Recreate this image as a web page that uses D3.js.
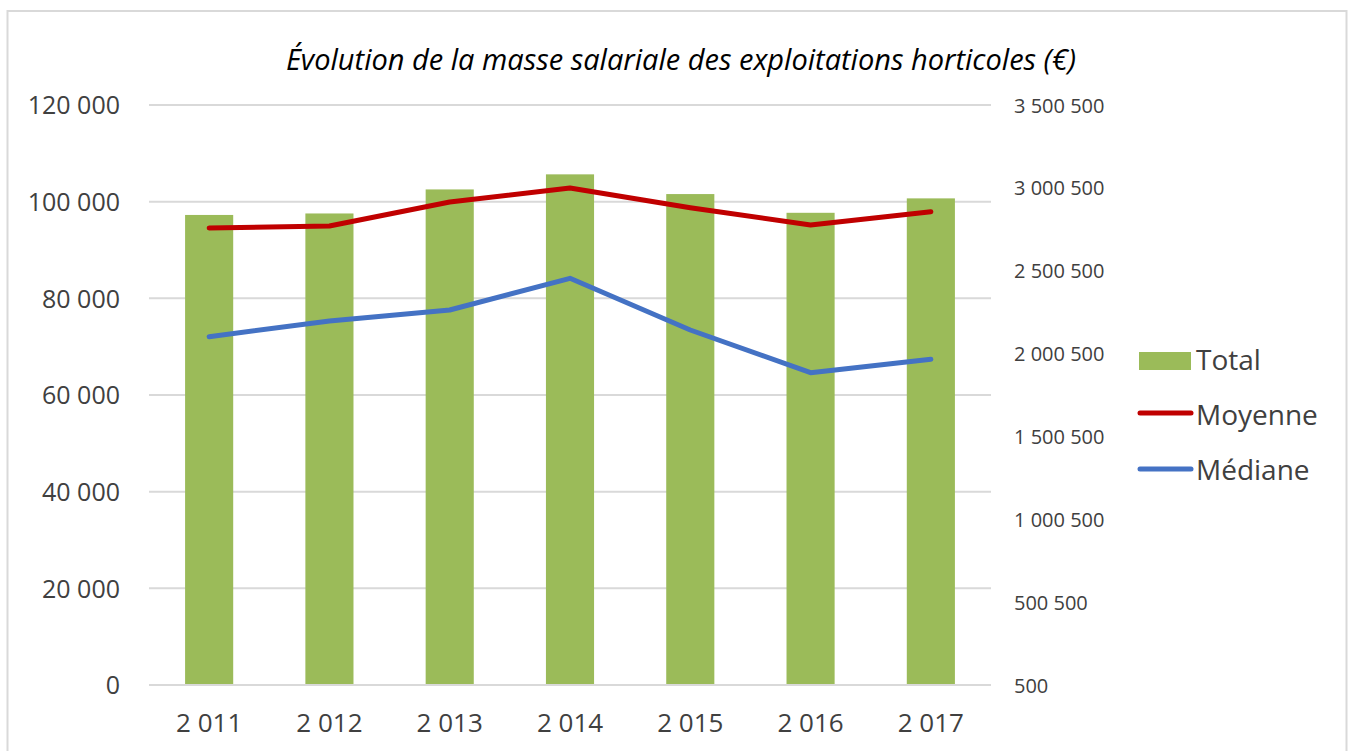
<!DOCTYPE html>
<html>
<head>
<meta charset="utf-8">
<script src="https://cdn.jsdelivr.net/npm/d3@7"></script>
<style>
  body { margin: 0; background: #fff; }
  svg text { font-family: "Open Sans", "Liberation Sans", sans-serif; fill: #404040; }
</style>
</head>
<body>
<svg></svg>
<script>
const years = ["2 011","2 012","2 013","2 014","2 015","2 016","2 017"]
const total = [2837000, 2846000, 2991000, 3082000, 2963000, 2850000, 2937000]
const moyenne = [94550, 94970, 99930, 102830, 98750, 95170, 97920]
const mediane = [72060, 75310, 77590, 84140, 73450, 64610, 67390]
const leftTicks = [0, 20000, 40000, 60000, 80000, 100000, 120000]
const rightTicks = [500, 500500, 1000500, 1500500, 2000500, 2500500, 3000500, 3500500]

const fmt = v => d3.format(",")(v).replace(/,/g, " ")

const svg = d3.select("svg")
    .attr("width", 1350)
    .attr("height", 751)

// chart frame
svg.append("rect")
    .attr("x", 7.5).attr("y", 11)
    .attr("width", 1339).attr("height", 760)
    .attr("fill", "none")
    .attr("stroke", "#d9d9d9")
    .attr("stroke-width", 2)

const x = d3.scaleBand()
    .domain(years)
    .range([149, 991])
    .paddingInner(0.6)
    .paddingOuter(0.3)

const yLeft = d3.scaleLinear()
    .domain([0, 120000])
    .range([685, 105])

const yRight = d3.scaleLinear()
    .domain([500, 3500500])
    .range([685, 105])

// gridlines
svg.append("g")
    .selectAll("line")
    .data(leftTicks.slice(1))
    .enter()
    .append("line")
    .attr("x1", 149).attr("x2", 991)
    .attr("y1", d => yLeft(d)).attr("y2", d => yLeft(d))
    .attr("stroke", "#d9d9d9")
    .attr("stroke-width", 2)

// bars (right axis)
svg.append("g")
    .selectAll("rect")
    .data(total)
    .enter()
    .append("rect")
    .attr("x", (d,i) => x(years[i]))
    .attr("y", d => yRight(d))
    .attr("width", x.bandwidth())
    .attr("height", d => yRight(500) - yRight(d))
    .attr("fill", "#9bbb59")

// baseline
svg.append("line")
    .attr("x1", 149).attr("x2", 991)
    .attr("y1", 685).attr("y2", 685)
    .attr("stroke", "#d9d9d9")
    .attr("stroke-width", 2)

// left axis
const leftAxis = svg.append("g")
    .attr("transform", "translate(120,0)")
    .call(d3.axisLeft(yLeft).tickValues(leftTicks).tickSize(0).tickPadding(0).tickFormat(fmt))
leftAxis.select(".domain").remove()
leftAxis.selectAll("text")
    .style("font-size", "25px")
    .attr("dy", "0.35em")
    .attr("fill", "#404040")

// right axis
const rightAxis = svg.append("g")
    .attr("transform", "translate(1014,0)")
    .call(d3.axisRight(yRight).tickValues(rightTicks).tickSize(0).tickPadding(0).tickFormat(fmt))
rightAxis.select(".domain").remove()
rightAxis.selectAll("text")
    .style("font-size", "20px")
    .attr("dy", "0.35em")
    .attr("fill", "#404040")

// x axis
const xAxis = svg.append("g")
    .attr("transform", "translate(0,685)")
    .call(d3.axisBottom(x).tickSize(0).tickPadding(0))
xAxis.select(".domain").remove()
xAxis.selectAll("text")
    .style("font-size", "26px")
    .attr("y", 47)
    .attr("dy", 0)
    .attr("fill", "#404040")

// lines (left axis)
const line = d3.line()
    .x((d,i) => x(years[i]) + x.bandwidth() / 2)
    .y(d => yLeft(d))

svg.append("path")
    .datum(moyenne)
    .attr("d", line)
    .attr("fill", "none")
    .attr("stroke", "#c00000")
    .attr("stroke-width", 5)
    .attr("stroke-linecap", "round")
    .attr("stroke-linejoin", "round")

svg.append("path")
    .datum(mediane)
    .attr("d", line)
    .attr("fill", "none")
    .attr("stroke", "#4472c4")
    .attr("stroke-width", 5)
    .attr("stroke-linecap", "round")
    .attr("stroke-linejoin", "round")

// title
svg.append("text")
    .attr("x", 681)
    .attr("y", 70)
    .attr("text-anchor", "middle")
    .style("font-size", "29px")
    .style("font-style", "italic")
    .style("fill", "#000")
    .text("Évolution de la masse salariale des exploitations horticoles (€)")

// legend
const legend = svg.append("g")
legend.append("rect")
    .attr("x", 1139).attr("y", 352)
    .attr("width", 52).attr("height", 18)
    .attr("fill", "#9bbb59")
legend.append("line")
    .attr("x1", 1140).attr("x2", 1191)
    .attr("y1", 413).attr("y2", 413)
    .attr("stroke", "#c00000").attr("stroke-width", 5).attr("stroke-linecap", "round")
legend.append("line")
    .attr("x1", 1140).attr("x2", 1191)
    .attr("y1", 469).attr("y2", 469)
    .attr("stroke", "#4472c4").attr("stroke-width", 5).attr("stroke-linecap", "round")
legend.selectAll("text.lab")
    .data(["Total", "Moyenne", "Médiane"])
    .enter()
    .append("text")
    .attr("class", "lab")
    .attr("x", 1196)
    .attr("y", (d,i) => 360 + i * 55)
    .attr("dy", "0.35em")
    .style("font-size", "28px")
    .text(d => d)
</script>
</body>
</html>
